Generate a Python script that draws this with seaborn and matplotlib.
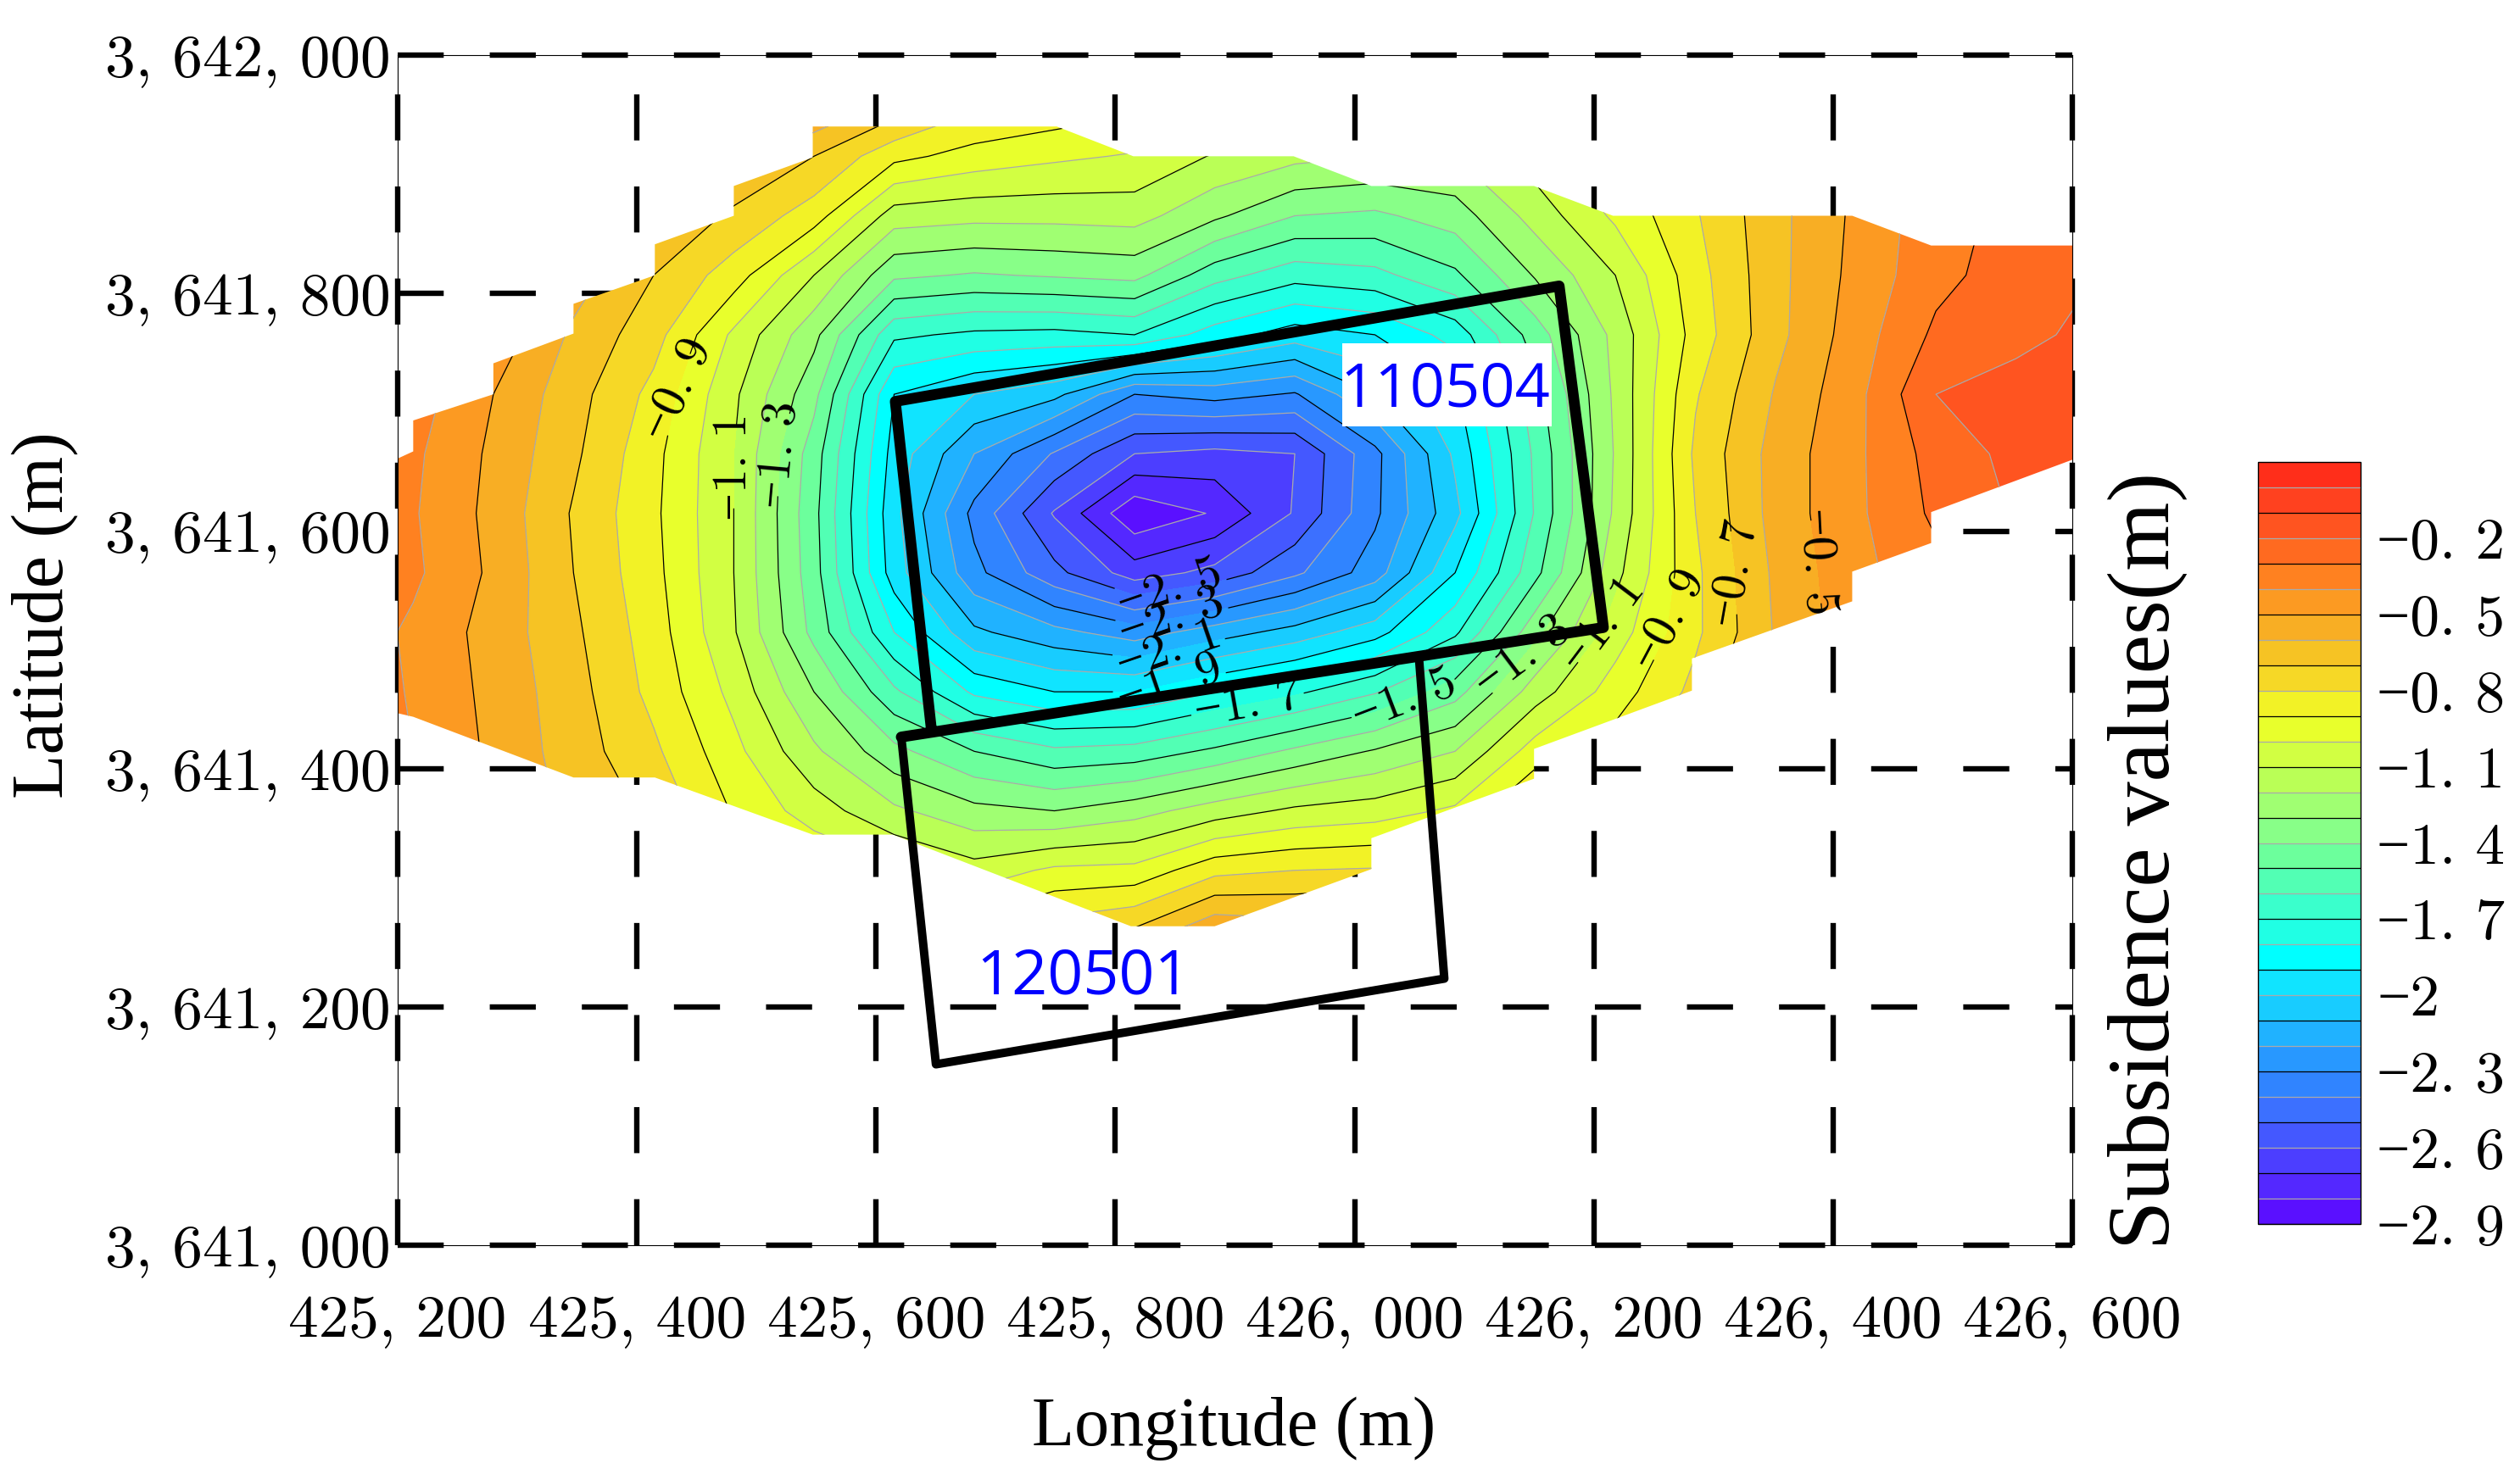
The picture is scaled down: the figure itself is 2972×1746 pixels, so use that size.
import numpy as np
import matplotlib
matplotlib.use('Agg')
import matplotlib.pyplot as plt
from matplotlib.colors import ListedColormap, BoundaryNorm
from matplotlib.patches import Polygon, Rectangle
import seaborn as sns

# subsidence grid, one list per longitude column (north to south)
lat_rows = [3641965, 3641915, 3641865, 3641815, 3641765, 3641715, 3641665, 3641615,
            3641565, 3641515, 3641465, 3641415, 3641365, 3641315, 3641265, 3641215]
lon_cols = [425146, 425213, 425280, 425347, 425414, 425481, 425548, 425615, 425682, 425749, 425816, 425883,
            425950, 426017, 426084, 426151, 426218, 426285, 426352, 426419, 426486, 426553, 426620]

c00 = [-0.05,-0.1,-0.15,-0.18,-0.22,-0.27,-0.3,-0.3,-0.3,-0.32,-0.32,-0.3,-0.3,-0.28,-0.25,-0.2]
c01 = [-0.1,-0.15,-0.2,-0.25,-0.3,-0.35,-0.38,-0.39,-0.38,-0.42,-0.41,-0.40,-0.38,-0.35,-0.3,-0.25]
c02 = [-0.2,-0.25,-0.3,-0.35,-0.43,-0.50,-0.52,-0.53,-0.52,-0.54,-0.53,-0.52,-0.50,-0.45,-0.4,-0.35]
c03 = [-0.3,-0.4,-0.48,-0.55,-0.62,-0.66,-0.68,-0.71,-0.70,-0.68,-0.66,-0.65,-0.63,-0.6,-0.5,-0.4]
c04 = [-0.4,-0.5,-0.6,-0.70,-0.76,-0.83,-0.87,-0.88,-0.87,-0.85,-0.83,-0.78,-0.72,-0.65,-0.55,-0.45]
c05 = [-0.5,-0.6,-0.72,-0.85,-1.02,-1.08,-1.10,-1.10,-1.10,-1.09,-1.03,-0.97,-0.91,-0.8,-0.7,-0.55]
c06 = [-0.45,-0.70,-0.85,-1.10,-1.27,-1.37,-1.45,-1.47,-1.46,-1.43,-1.30,-1.18,-1.05,-0.90,-0.75,-0.55]
c07 = [-0.6,-0.87,-1.15,-1.38,-1.68,-1.90,-1.94,-1.97,-1.95,-1.80,-1.58,-1.37,-1.18,-0.98,-0.8,-0.6]
c08 = [-0.75,-0.94,-1.17,-1.41,-1.72,-2.0,-2.2,-2.33,-2.27,-2.08,-1.82,-1.50,-1.27,-1.06,-0.85,-0.6]
c09 = [-0.8,-0.98,-1.17,-1.39,-1.73,-2.07,-2.41,-2.61,-2.47,-2.17,-1.90,-1.58,-1.30,-0.98,-0.75,-0.5]
c10 = [-0.85,-1.01,-1.16,-1.37,-1.70,-2.30,-2.60,-2.88,-2.65,-2.25,-1.90,-1.56,-1.24,-0.97,-0.69,-0.40]
c11 = [-0.9,-1.11,-1.28,-1.56,-1.85,-2.26,-2.63,-2.79,-2.57,-2.15,-1.80,-1.48,-1.15,-0.83,-0.52,-0.3]
c12 = [-0.95,-1.17,-1.40,-1.66,-1.95,-2.31,-2.60,-2.59,-2.42,-2.06,-1.72,-1.38,-1.08,-0.80,-0.55,-0.35]
c13 = [-1.0,-1.2,-1.42,-1.63,-1.9,-2.1,-2.33,-2.32,-2.25,-1.94,-1.61,-1.29,-1.05,-0.79,-0.5,-0.3]
c14 = [-1.0,-1.2,-1.35,-1.52,-1.76,-1.92,-1.98,-2.03,-1.90,-1.72,-1.44,-1.2,-0.98,-0.75,-0.5,-0.3]
c15 = [-1.0,-1.05,-1.16,-1.29,-1.45,-1.54,-1.58,-1.59,-1.53,-1.33,-1.15,-0.95,-0.78,-0.6,-0.4,-0.25]
c16 = [-0.85,-0.9,-0.98,-1.1,-1.17,-1.18,-1.19,-1.18,-1.13,-1.05,-0.95,-0.85,-0.7,-0.55,-0.35,-0.2]
c17 = [-0.7,-0.75,-0.81,-0.84,-0.86,-0.81,-0.78,-0.80,-0.82,-0.82,-0.77,-0.68,-0.55,-0.4,-0.25,-0.15]
c18 = [-0.6,-0.63,-0.63,-0.63,-0.63,-0.59,-0.56,-0.56,-0.58,-0.59,-0.52,-0.42,-0.3,-0.2,-0.12,-0.05]
c19 = [-0.45,-0.46,-0.48,-0.47,-0.45,-0.43,-0.42,-0.42,-0.43,-0.44,-0.38,-0.3,-0.22,-0.15,-0.08,-0.03]
c20 = [-0.35,-0.36,-0.34,-0.33,-0.28,-0.20,-0.26,-0.28,-0.33,-0.3,-0.25,-0.2,-0.15,-0.1,-0.05,0.0]
c21 = [-0.28,-0.28,-0.27,-0.25,-0.22,-0.17,-0.17,-0.19,-0.2,-0.2,-0.15,-0.12,-0.1,-0.08,-0.05,0.0]
c22 = [-0.25,-0.25,-0.22,-0.2,-0.18,-0.15,-0.15,-0.16,-0.16,-0.15,-0.12,-0.1,-0.08,-0.05,-0.02,0.0]

# surveyed area outline
area_lon = [425200,425213,425213,425280,425280,425347,425347,425415,425415,425481,425481,425547,425547,425751,
            425815,425949,426014,426150,426216,426416,426482,426600,426600,426482,426482,426416,426416,426282,
            426282,426150,426150,426014,426014,425883,425813,425614,425547,425415,425347,425213,425200]
area_lat = [3641661,3641667,3641693,3641715,3641741,3641766,3641791,3641815,3641841,3641865,3641890,3641914,3641940,3641940,
            3641915,3641915,3641890,3641890,3641865,3641865,3641840,3641840,3641660,3641616,3641590,3641566,3641541,3641493,
            3641466,3641417,3641392,3641342,3641316,3641268,3641268,3641345,3641345,3641393,3641393,3641444,3641447]

# working faces
face_110504_lon = [425621, 426208, 426171, 425616, 425646]
face_110504_lat = [3641427, 3641519, 3641806, 3641709, 3641435]
face_120501_lon = [425621, 425650, 426075, 426054]
face_120501_lat = [3641427, 3641152, 3641224, 3641491]

levels = [-2.9,-2.8,-2.7,-2.6,-2.5,-2.4,-2.3,-2.2,-2.1,-2.0,-1.9,-1.8,-1.7,-1.6,-1.5,-1.4,-1.3,-1.2,-1.1,-1.0,
          -0.9,-0.8,-0.7,-0.6,-0.5,-0.4,-0.3,-0.2,-0.1,0.0,0.1]
black_levels = [-2.9,-2.7,-2.5,-2.3,-2.1,-1.9,-1.7,-1.5,-1.3,-1.1,-0.9,-0.7,-0.5,-0.3,-0.1]
gray_levels = [-2.8,-2.6,-2.4,-2.2,-2.0,-1.8,-1.6,-1.4,-1.2,-1.0,-0.8,-0.6,-0.4,-0.2,0.0]
band_colors = ['#5A10FF','#5428FF','#4C3EFF','#4458FF','#3C70FF','#3084FF','#2898FF','#20B2FF','#18CCFF','#10E4FF',
               '#00FFFF','#20FFE4','#3AFFCC','#52FFB4','#6CFF9C','#88FF88','#A0FF72','#BAFF56','#D2FF42','#E8FF2C',
               '#F2F226','#F6D826','#F6C324','#F8AE24','#FC9A22','#FF8120','#FF6A20','#FF5420','#FF411F','#FF2E1A']

lon_ticks = [425200, 425400, 425600, 425800, 426000, 426200, 426400, 426600]
lon_labels = ['425, 200', '425, 400', '425, 600', '425, 800', '426, 000', '426, 200', '426, 400', '426, 600']
lat_ticks = [3641000, 3641200, 3641400, 3641600, 3641800, 3642000]
lat_labels = ['3, 641, 000', '3, 641, 200', '3, 641, 400', '3, 641, 600', '3, 641, 800', '3, 642, 000']
bar_ticks = [-0.2, -0.5, -0.8, -1.1, -1.4, -1.7, -2.0, -2.3, -2.6, -2.9]
bar_labels = ['−0. 2', '−0. 5', '−0. 8', '−1. 1', '−1. 4', '−1. 7', '−2', '−2. 3', '−2. 6', '−2. 9']

# where the contour labels sit: -0.9 -1.1 -1.3 -2.5 -2.3 -2.1 -1.9 -1.7 -1.5 -1.3 -1.1 -0.9 -0.7 -0.5
label_lon = [425439, 425488, 425531, 425846, 425846, 425846, 425846, 425910, 426043, 426129, 426203, 426252, 426313, 426384]
label_lat = [3641718, 3641654, 3641664, 3641550, 3641530, 3641497, 3641470, 3641456, 3641456, 3641499, 3641522, 3641526, 3641564, 3641574]
label_rot = [65, 90, 85, 19, 19, 19, 19, 10, 21, 37, 53, 62, 80, -87]

sns.set_theme(style='white')
plt.rcParams['font.family'] = ['cmr10', 'Liberation Serif']
plt.rcParams['axes.formatter.use_mathtext'] = True

W, H = 2972, 1746
fig = plt.figure(figsize=(W / 200, H / 200), dpi=200)
ax = fig.add_axes([469 / W, 1 - 1469 / H, (2444 - 469) / W, (1469 - 65) / H])

z = np.column_stack([c00, c01, c02, c03, c04, c05, c06, c07, c08, c09, c10, c11,
                     c12, c13, c14, c15, c16, c17, c18, c19, c20, c21, c22])

cmap = ListedColormap(sns.color_palette(band_colors))
norm = BoundaryNorm(levels, cmap.N)
fill = ax.contourf(lon_cols, lat_rows, z, levels=levels, cmap=cmap, norm=norm)
black_lines = ax.contour(lon_cols, lat_rows, z, levels=black_levels, colors='black', linewidths=0.45, linestyles='solid')
gray_lines = ax.contour(lon_cols, lat_rows, z, levels=gray_levels, colors='#AAAAAA', linewidths=0.45, linestyles='solid')

area = Polygon(np.column_stack([area_lon, area_lat]), closed=True, fill=False, edgecolor='none', transform=ax.transData)
ax.add_patch(area)
fill.set_clip_path(area)
black_lines.set_clip_path(area)
gray_lines.set_clip_path(area)

# labels on the black contours
texts = ax.clabel(black_lines, manual=list(zip(label_lon, label_lat)), fontsize=21, colors='black', inline_spacing=2,
                  fmt=lambda v: '−' + f'{abs(v):.1f}'.replace('.', '. '))
for t, r in zip(texts, label_rot):
    t.set_rotation(r)

sns.lineplot(x=face_110504_lon, y=face_110504_lat, sort=False, estimator=None, color='black', linewidth=4.6, ax=ax, zorder=5)
sns.lineplot(x=face_120501_lon, y=face_120501_lat, sort=False, estimator=None, color='black', linewidth=3.6, ax=ax, zorder=5)

ax.add_patch(Rectangle((425990, 3641688), 175, 70, facecolor='white', edgecolor='none', zorder=4))
ax.text(426076, 3641718, '110504', color='#0000FF', family='Open Sans', fontsize=26, ha='center', va='center', zorder=6)
ax.text(425773, 3641225, '120501', color='#0000FF', family='Open Sans', fontsize=26.5, ha='center', va='center', zorder=6)

ax.set_xlim(425200, 426600)
ax.set_ylim(3641000, 3642000)
ax.set_xticks(lon_ticks)
ax.set_xticklabels(lon_labels)
ax.set_yticks(lat_ticks)
ax.set_yticklabels(lat_labels)
ax.tick_params(axis='both', length=0, labelsize=25.7, labelcolor='black')
ax.tick_params(axis='x', pad=21)
ax.tick_params(axis='y', pad=3)

ax.set_axisbelow(True)
ax.grid(True, color='black', linewidth=2.3, linestyle=(0, (8.5, 8.5)))
for g in ax.get_xgridlines() + ax.get_ygridlines():
    g.set_clip_on(False)
for s in ax.spines.values():
    s.set_linewidth(0.4)
    s.set_color('black')

cax = fig.add_axes([2663 / W, 1 - 1444 / H, (2784 - 2663) / W, (1444 - 545) / H])
cbar = fig.colorbar(fill, cax=cax, ticks=bar_ticks, spacing='uniform', drawedges=False)
cbar.add_lines(black_lines, erase=False)
cbar.add_lines(gray_lines, erase=False)
cbar.ax.set_yticklabels(bar_labels)
cbar.ax.minorticks_off()
cbar.ax.tick_params(which='both', length=0, labelsize=25, pad=7, labelcolor='black')
cbar.outline.set_linewidth(0.5)
cbar.outline.set_edgecolor('black')

fig.text(1455 / W, 1 - 1685 / H, 'Longitude (m)', family='Liberation Serif', fontsize=29.5, ha='center', va='center', color='black')
fig.text(53 / W, 1 - 726 / H, 'Latitude (m)', family='Liberation Serif', fontsize=31, rotation=90, ha='center', va='center', color='black')
fig.text(2533 / W, 1 - 1015 / H, 'Subsidence values(m)', family='Liberation Serif', fontsize=37.5, rotation=90, ha='center', va='center', color='black')

fig.savefig('out.png', dpi=200, facecolor='white')
